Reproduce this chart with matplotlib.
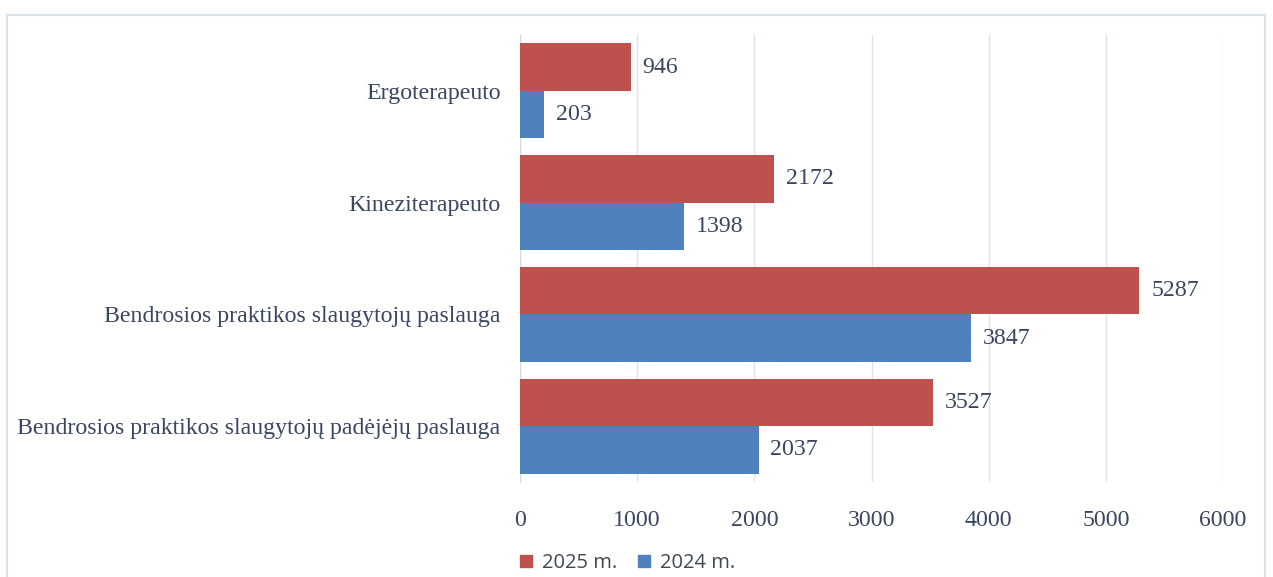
import matplotlib
matplotlib.use("Agg")
import matplotlib.pyplot as plt
import numpy as np
from matplotlib.patches import Rectangle, Patch

categories = ["Ergoterapeuto", "Kineziterapeuto",
              "Bendrosios praktikos slaugytojų paslauga",
              "Bendrosios praktikos slaugytojų padėjėjų paslauga"]
vals_2025 = [946, 2172, 5287, 3527]
vals_2024 = [203, 1398, 3847, 2037]
series_names = ["2025 m.", "2024 m."]
xticks = [0, 1000, 2000, 3000, 4000, 5000, 6000]

RED = "#C0504D"
BLUE = "#4F81BD"
TXT = "#3A4660"
FS = 17.2

fig = plt.figure(figsize=(12.73, 5.77), dpi=100)
fig.patches.append(Rectangle((7/1273, -0.01), (1265-7)/1273, 1 - 15/577 + 0.01,
                             transform=fig.transFigure, fill=False,
                             edgecolor="#D6E3EE", linewidth=1.5))
ax = fig.add_axes([520/1273, 1 - 482/577, (1223-520)/1273, (482-35)/577])

n = len(categories)
y = np.arange(n)
h = 0.425
b1 = ax.barh(y - h/2, vals_2025, height=h, color=RED, label=series_names[0], zorder=3)
b2 = ax.barh(y + h/2, vals_2024, height=h, color=BLUE, label=series_names[1], zorder=3)
ax.set_ylim(n - 0.5, -0.5)
ax.set_xlim(0, 6000)

for bars, vals in ((b1, vals_2025), (b2, vals_2024)):
    for bar, v in zip(bars, vals):
        ax.text(v + 100, bar.get_y() + bar.get_height()/2, str(v),
                va="center", ha="left", fontsize=FS, family="Liberation Serif", color=TXT)

ax.xaxis.set_tick_params(length=0, pad=20)
ax.yaxis.set_tick_params(length=0, pad=14)
ax.set_yticks(y)
ax.set_yticklabels(categories, fontsize=FS, family="Liberation Serif", color=TXT)
ax.set_xticks(xticks)
ax.set_xticklabels([str(t) for t in xticks], fontsize=FS, family="Liberation Serif", color=TXT)
ax.grid(axis="x", color="#DCE3EA", linewidth=1, zorder=0)
for s in ["top", "right", "bottom"]:
    ax.spines[s].set_visible(False)
ax.spines["left"].set_color("#D9D9D9")

handles = [Patch(color=RED), Patch(color=BLUE)]
fig.legend(handles, series_names, loc="center left", bbox_to_anchor=(502/1273, 1 - 563/577),
           ncol=2, frameon=False, prop={"family": "Open Sans", "size": 14.5},
           labelcolor="#404850", handlelength=0.6, handleheight=0.6, handletextpad=0.5,
           columnspacing=1.0)

fig.savefig("out.png", dpi=100)
